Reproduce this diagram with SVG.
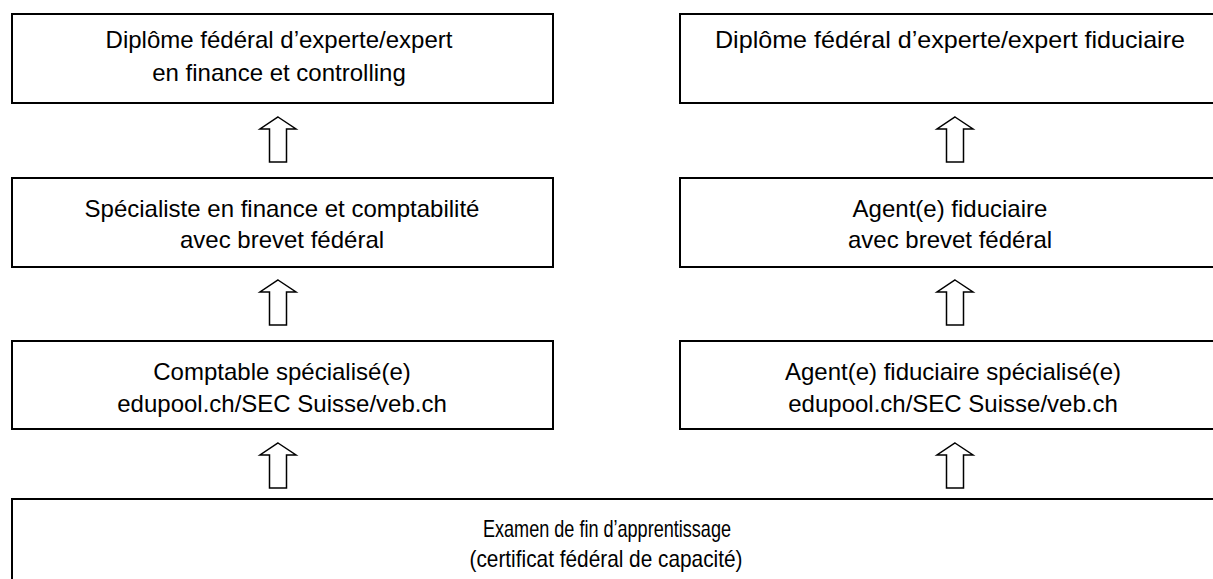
<svg xmlns="http://www.w3.org/2000/svg" width="1213" height="579" viewBox="0 0 1213 579">
<style>
.box{fill:#fff;stroke:#000;stroke-width:2}
.t{font-family:"Liberation Sans",Arial,sans-serif;font-size:24px;fill:#000;text-anchor:middle}
.arr{fill:#fff;stroke:#000;stroke-width:1.5;stroke-linejoin:miter}
</style>
<defs>
<path id="up" d="M0,0 L18,12 L8.5,12 L8.5,45 L-8.5,45 L-8.5,12 L-18,12 Z"/>
</defs>
<rect width="1213" height="579" fill="#fff"/>
<g id="n1"><rect class="box" x="12" y="14" width="541" height="89"/>
<text class="t" x="279" y="48">Diplôme fédéral d’experte/expert</text>
<text class="t" x="279" y="81">en finance et controlling</text></g>
<g id="n2"><rect class="box" x="680" y="14" width="545" height="89"/>
<text class="t" x="950" y="48" textLength="470" lengthAdjust="spacingAndGlyphs">Diplôme fédéral d’experte/expert fiduciaire</text></g>
<g id="n3"><rect class="box" x="12" y="178" width="541" height="89"/>
<text class="t" x="282" y="217">Spécialiste en finance et comptabilité</text>
<text class="t" x="282" y="248">avec brevet fédéral</text></g>
<g id="n4"><rect class="box" x="680" y="178" width="545" height="89"/>
<text class="t" x="950" y="217">Agent(e) fiduciaire</text>
<text class="t" x="950" y="248">avec brevet fédéral</text></g>
<g id="n5"><rect class="box" x="12" y="341" width="541" height="88"/>
<text class="t" x="282" y="380">Comptable spécialisé(e)</text>
<text class="t" x="282" y="412">edupool.ch/SEC Suisse/veb.ch</text></g>
<g id="n6"><rect class="box" x="680" y="341" width="545" height="88"/>
<text class="t" x="953" y="380">Agent(e) fiduciaire spécialisé(e)</text>
<text class="t" x="953" y="412">edupool.ch/SEC Suisse/veb.ch</text></g>
<g id="n7"><rect class="box" x="12" y="499" width="1215" height="100"/>
<text class="t" x="607" y="537" textLength="248" lengthAdjust="spacingAndGlyphs">Examen de fin d’apprentissage</text>
<text class="t" x="606" y="567" textLength="273" lengthAdjust="spacingAndGlyphs">(certificat fédéral de capacité)</text></g>
<g id="connectors">
<use href="#up" class="arr" x="278" y="117"/>
<use href="#up" class="arr" x="278" y="280"/>
<use href="#up" class="arr" x="278" y="443"/>
<use href="#up" class="arr" x="955" y="117"/>
<use href="#up" class="arr" x="955" y="280"/>
<use href="#up" class="arr" x="955" y="443"/>
</g>
</svg>
